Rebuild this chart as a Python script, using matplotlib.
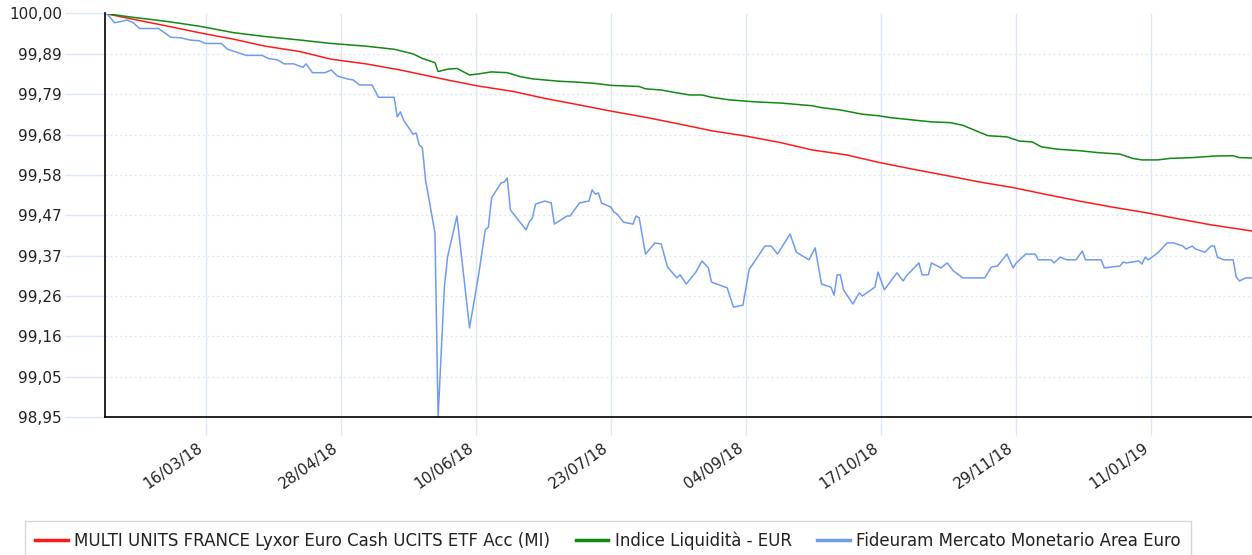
import matplotlib
matplotlib.use("Agg")
import matplotlib.pyplot as plt
import matplotlib.transforms as mtransforms
import pandas as pd

# ---------------- data ----------------
red_dates = ["2018-02-12", "2018-02-21", "2018-03-04", "2018-03-14", "2018-03-25", "2018-04-04",
             "2018-04-15", "2018-04-25", "2018-05-06", "2018-05-17", "2018-06-01", "2018-06-11",
             "2018-06-22", "2018-07-02", "2018-07-13", "2018-07-23", "2018-08-03", "2018-08-14",
             "2018-08-24", "2018-09-04", "2018-09-15", "2018-09-25", "2018-10-06", "2018-10-16",
             "2018-10-27", "2018-11-07", "2018-11-17", "2018-11-28", "2018-12-08", "2018-12-19",
             "2018-12-29", "2019-01-09", "2019-01-20", "2019-01-30", "2019-02-12"]
red_values = [100.000, 99.985, 99.967, 99.950, 99.933, 99.915,
              99.901, 99.881, 99.869, 99.853, 99.827, 99.811,
              99.797, 99.779, 99.762, 99.746, 99.730, 99.712,
              99.695, 99.681, 99.664, 99.645, 99.632, 99.613,
              99.595, 99.578, 99.562, 99.547, 99.530, 99.512,
              99.497, 99.482, 99.465, 99.450, 99.434]

green_dates = ["2018-02-12", "2018-02-21", "2018-03-04", "2018-03-14", "2018-03-25", "2018-04-04",
               "2018-04-15", "2018-04-25", "2018-05-06", "2018-05-15", "2018-05-21", "2018-05-24",
               "2018-05-28", "2018-05-29", "2018-06-01", "2018-06-04", "2018-06-08", "2018-06-11",
               "2018-06-15", "2018-06-20", "2018-06-24", "2018-06-28", "2018-07-06", "2018-07-13",
               "2018-07-18", "2018-07-23", "2018-08-01", "2018-08-03", "2018-08-08", "2018-08-12",
               "2018-08-17", "2018-08-21", "2018-08-24", "2018-08-30", "2018-09-07", "2018-09-15",
               "2018-09-25", "2018-09-28", "2018-10-04", "2018-10-11", "2018-10-16", "2018-10-20",
               "2018-10-27", "2018-11-02", "2018-11-08", "2018-11-12", "2018-11-17", "2018-11-20",
               "2018-11-26", "2018-11-30", "2018-12-04", "2018-12-07", "2018-12-12", "2018-12-19",
               "2018-12-25", "2019-01-01", "2019-01-05", "2019-01-08", "2019-01-13", "2019-01-17",
               "2019-01-24", "2019-01-31", "2019-02-06", "2019-02-08", "2019-02-12"]
green_values = [100.000, 99.990, 99.979, 99.967, 99.950, 99.940,
                99.931, 99.922, 99.915, 99.907, 99.895, 99.883,
                99.872, 99.849, 99.855, 99.857, 99.840, 99.843,
                99.848, 99.846, 99.836, 99.830, 99.824, 99.821,
                99.818, 99.813, 99.810, 99.804, 99.801, 99.795,
                99.788, 99.788, 99.782, 99.775, 99.770, 99.767,
                99.760, 99.755, 99.749, 99.738, 99.734, 99.729,
                99.723, 99.718, 99.716, 99.709, 99.692, 99.682,
                99.679, 99.668, 99.666, 99.653, 99.647, 99.643,
                99.638, 99.634, 99.623, 99.619, 99.619, 99.623,
                99.625, 99.629, 99.630, 99.625, 99.624]

blue_dates = ["2018-02-12", "2018-02-13", "2018-02-15", "2018-02-17", "2018-02-19", "2018-02-21",
              "2018-02-23", "2018-03-01", "2018-03-05", "2018-03-08", "2018-03-11", "2018-03-14",
              "2018-03-16", "2018-03-21", "2018-03-23", "2018-03-26", "2018-03-29", "2018-04-03",
              "2018-04-05", "2018-04-08", "2018-04-10", "2018-04-13", "2018-04-16", "2018-04-17",
              "2018-04-19", "2018-04-23", "2018-04-25", "2018-04-27", "2018-04-30", "2018-05-02",
              "2018-05-04", "2018-05-08", "2018-05-10", "2018-05-15", "2018-05-16", "2018-05-17",
              "2018-05-18", "2018-05-21", "2018-05-22", "2018-05-23", "2018-05-24", "2018-05-25",
              "2018-05-28", "2018-05-29", "2018-05-31", "2018-06-01", "2018-06-04", "2018-06-08",
              "2018-06-11", "2018-06-13", "2018-06-14", "2018-06-15", "2018-06-18", "2018-06-19",
              "2018-06-20", "2018-06-21", "2018-06-26", "2018-06-27", "2018-06-28", "2018-06-29",
              "2018-07-02", "2018-07-04", "2018-07-05", "2018-07-09", "2018-07-10", "2018-07-13",
              "2018-07-16", "2018-07-17", "2018-07-18", "2018-07-19", "2018-07-20", "2018-07-23",
              "2018-07-24", "2018-07-25", "2018-07-27", "2018-07-30", "2018-07-31", "2018-08-01",
              "2018-08-03", "2018-08-06", "2018-08-08", "2018-08-10", "2018-08-13", "2018-08-14",
              "2018-08-16", "2018-08-19", "2018-08-21", "2018-08-23", "2018-08-24", "2018-08-29",
              "2018-08-31", "2018-09-03", "2018-09-05", "2018-09-06", "2018-09-10", "2018-09-12",
              "2018-09-14", "2018-09-18", "2018-09-20", "2018-09-24", "2018-09-26", "2018-09-28",
              "2018-10-01", "2018-10-02", "2018-10-03", "2018-10-04", "2018-10-05", "2018-10-08",
              "2018-10-10", "2018-10-11", "2018-10-15", "2018-10-16", "2018-10-18", "2018-10-22",
              "2018-10-24", "2018-10-25", "2018-10-29", "2018-10-30", "2018-11-01", "2018-11-02",
              "2018-11-05", "2018-11-07", "2018-11-09", "2018-11-12", "2018-11-19", "2018-11-21",
              "2018-11-23", "2018-11-26", "2018-11-28", "2018-11-29", "2018-12-02", "2018-12-05",
              "2018-12-06", "2018-12-10", "2018-12-11", "2018-12-13", "2018-12-15", "2018-12-18",
              "2018-12-20", "2018-12-21", "2018-12-26", "2018-12-27", "2019-01-01", "2019-01-02",
              "2019-01-03", "2019-01-07", "2019-01-08", "2019-01-09", "2019-01-10", "2019-01-13",
              "2019-01-16", "2019-01-18", "2019-01-21", "2019-01-22", "2019-01-24", "2019-01-25",
              "2019-01-28", "2019-01-30", "2019-01-31", "2019-02-01", "2019-02-03", "2019-02-06",
              "2019-02-07", "2019-02-08", "2019-02-10", "2019-02-12"]
blue_values = [100.000, 99.996, 99.976, 99.979, 99.983, 99.976,
               99.961, 99.961, 99.938, 99.937, 99.931, 99.929,
               99.922, 99.922, 99.907, 99.899, 99.891, 99.891,
               99.883, 99.879, 99.869, 99.869, 99.860, 99.869,
               99.846, 99.846, 99.853, 99.837, 99.830, 99.827,
               99.814, 99.814, 99.782, 99.782, 99.731, 99.744,
               99.723, 99.686, 99.689, 99.658, 99.650, 99.567,
               99.429, 98.950, 99.288, 99.366, 99.473, 99.182,
               99.325, 99.437, 99.444, 99.520, 99.559, 99.561,
               99.572, 99.489, 99.437, 99.457, 99.468, 99.504,
               99.512, 99.507, 99.452, 99.473, 99.473, 99.507,
               99.512, 99.541, 99.530, 99.533, 99.507, 99.496,
               99.483, 99.478, 99.457, 99.452, 99.473, 99.468,
               99.374, 99.403, 99.400, 99.340, 99.312, 99.320,
               99.296, 99.327, 99.356, 99.338, 99.301, 99.286,
               99.236, 99.241, 99.335, 99.346, 99.395, 99.395,
               99.374, 99.426, 99.379, 99.359, 99.390, 99.296,
               99.288, 99.267, 99.320, 99.320, 99.281, 99.244,
               99.273, 99.265, 99.288, 99.327, 99.281, 99.325,
               99.304, 99.317, 99.351, 99.320, 99.320, 99.351,
               99.338, 99.351, 99.330, 99.312, 99.312, 99.340,
               99.343, 99.374, 99.338, 99.351, 99.374, 99.374,
               99.359, 99.359, 99.351, 99.366, 99.359, 99.359,
               99.382, 99.359, 99.359, 99.338, 99.343, 99.353,
               99.351, 99.356, 99.348, 99.366, 99.359, 99.377,
               99.403, 99.403, 99.395, 99.387, 99.395, 99.387,
               99.379, 99.395, 99.395, 99.366, 99.359, 99.359,
               99.314, 99.304, 99.312, 99.312]

series_names = ["MULTI UNITS FRANCE Lyxor Euro Cash UCITS ETF Acc (MI)",
                "Indice Liquidità - EUR",
                "Fideuram Mercato Monetario Area Euro"]
series_colors = ["#ff1a1a", "#128a12", "#6f9cf0"]

y_ticks = [98.95, 99.055, 99.16, 99.265, 99.37, 99.475, 99.58, 99.685, 99.79, 99.895, 100.0]
y_tick_labels = ["98,95", "99,05", "99,16", "99,26", "99,37", "99,47", "99,58", "99,68", "99,79", "99,89", "100,00"]
x_tick_dates = ["2018-03-16", "2018-04-28", "2018-06-10", "2018-07-23", "2018-09-04",
                "2018-10-17", "2018-11-29", "2019-01-11"]
x_tick_labels = ["16/03/18", "28/04/18", "10/06/18", "23/07/18", "04/09/18",
                 "17/10/18", "29/11/18", "11/01/19"]
x_range = ["2018-02-12", "2019-02-12"]

# ---------------- figure ----------------
W, H = 1252, 555
fig = plt.figure(figsize=(W / 100, H / 100), dpi=100)
ax = fig.add_axes([105 / W, 1 - 417 / H, (1252 - 105) / W, (417 - 13.5) / H])

grid_col = "#dce7f7"
text_col = "#222222"

all_dates = [red_dates, green_dates, blue_dates]
all_vals = [red_values, green_values, blue_values]
handles = []
for d, v, name, c in zip(all_dates, all_vals, series_names, series_colors):
    h, = ax.plot(pd.to_datetime(d), v, color=c, lw=1.1, label=name, zorder=3)
    handles.append(h)

ax.set_ylim(98.95, 100.0)
ax.set_xlim(pd.to_datetime(x_range[0]), pd.to_datetime(x_range[1]))

ax.set_yticks(y_ticks)
ax.set_yticklabels(y_tick_labels)
ax.set_xticks(pd.to_datetime(x_tick_dates))
ax.set_xticklabels(x_tick_labels, rotation=35, ha="right", rotation_mode="default")
shift = mtransforms.ScaledTranslation(5 / 100, 0, fig.dpi_scale_trans)
for lab in ax.get_xticklabels():
    lab.set_transform(lab.get_transform() + shift)

ax.yaxis.grid(True, color=grid_col, linestyle=(0, (1.5, 2)), lw=1.0, zorder=0)
ax.xaxis.grid(True, color=grid_col, linestyle="-", lw=1.0, zorder=0)
ax.set_axisbelow(True)

ax.tick_params(axis="y", length=29, width=1.0, color=grid_col, pad=2, labelsize=11, labelcolor=text_col)
ax.tick_params(axis="x", length=13, width=1.0, color=grid_col, pad=4, labelsize=11, labelcolor=text_col)

for s in ["top", "right"]:
    ax.spines[s].set_visible(False)
for s in ["left", "bottom"]:
    ax.spines[s].set_color("black")
    ax.spines[s].set_linewidth(1.2)
    ax.spines[s].set_zorder(4)

leg = fig.legend(handles=handles, loc="upper left", bbox_to_anchor=(25 / W, 1 - 521 / H),
                 ncol=3, frameon=True, fancybox=False, fontsize=12,
                 handlelength=1.95, handletextpad=0.42, columnspacing=1.5,
                 borderpad=0.6, borderaxespad=0)
leg.get_frame().set_edgecolor("#cccccc")
leg.get_frame().set_linewidth(1.0)
for t in leg.get_texts():
    t.set_color(text_col)
for lh in leg.legend_handles:
    lh.set_linewidth(2.5)

fig.savefig("out.png", dpi=100)
